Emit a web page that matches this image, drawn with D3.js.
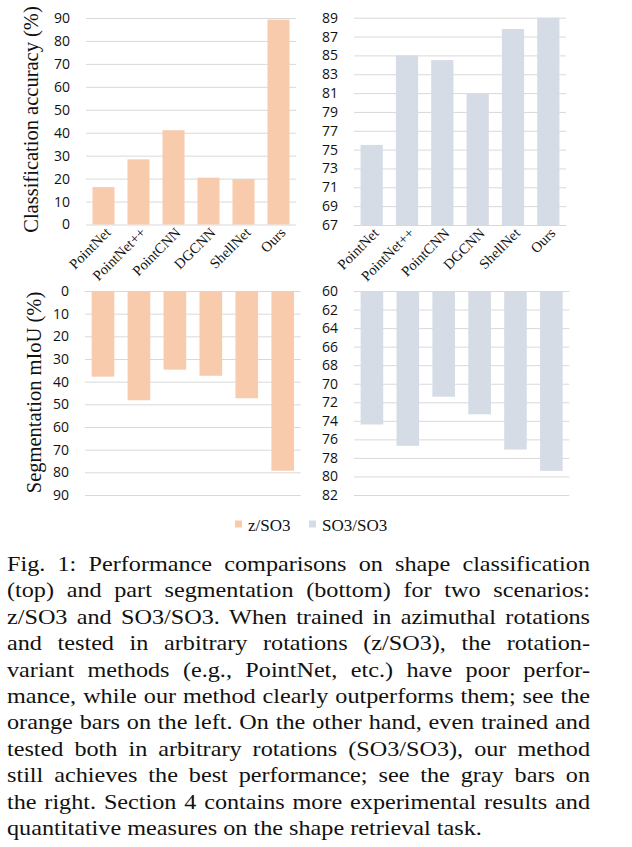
<!DOCTYPE html>
<html><head><meta charset="utf-8">
<script src="https://cdn.jsdelivr.net/npm/d3@7/dist/d3.min.js"></script>
<style>body{margin:0;background:#fff}</style>
</head><body>
<svg id="c" width="632" height="847"></svg>
<script>
const categories = ["PointNet","PointNet++","PointCNN","DGCNN","ShellNet","Ours"];
const seriesNames = ["z/SO3","SO3/SO3"];
const clsZSO3   = [16.3, 28.4, 41.1, 20.4, 19.8, 89.3];
const clsSO3SO3 = [75.5, 85.0, 84.5, 81.0, 87.8, 89.0];
const segZSO3   = [37.8, 48.2, 34.7, 37.4, 47.3, 79.3];
const segSO3SO3 = [74.4, 76.7, 71.4, 73.3, 77.1, 79.4];
const clsLeftTicks  = [0,10,20,30,40,50,60,70,80,90];
const clsRightTicks = [67,69,71,73,75,77,79,81,83,85,87,89];
const segLeftTicks  = [0,10,20,30,40,50,60,70,80,90];
const segRightTicks = [60,62,64,66,68,70,72,74,76,78,80,82];
const yTitles = ["Classification accuracy (%)","Segmentation mIoU (%)"];
const captionLines = [
 "Fig. 1: Performance comparisons on shape classification",
 "(top) and part segmentation (bottom) for two scenarios:",
 "z/SO3 and SO3/SO3. When trained in azimuthal rotations",
 "and tested in arbitrary rotations (z/SO3), the rotation-",
 "variant methods (e.g., PointNet, etc.) have poor perfor-",
 "mance, while our method clearly outperforms them; see the",
 "orange bars on the left. On the other hand, even trained and",
 "tested both in arbitrary rotations (SO3/SO3), our method",
 "still achieves the best performance; see the gray bars on",
 "the right. Section 4 contains more experimental results and",
 "quantitative measures on the shape retrieval task."
];
const colors = ["#F8CBAD","#D6DCE5"];

const svg = d3.select("#c");
svg.append("rect").attr("width",632).attr("height",847).attr("fill","#fff");
const tickFont = "'Open Sans', sans-serif";
const serif = "'Liberation Serif', 'Times New Roman', serif";

function panel(o){
  const x = d3.scaleBand().domain(categories).range([o.x0,o.x1]).paddingInner(0.37).paddingOuter(0.185);
  const y = d3.scaleLinear().domain([o.ticks[0], o.ticks[o.ticks.length-1]])
    .range(o.reversed ? [o.yTop,o.yBot] : [o.yBot,o.yTop]);
  const ax = svg.append("g").attr("transform",`translate(${o.x0},0)`)
    .call(d3.axisLeft(y).tickValues(o.ticks).tickSize(-(o.x1-o.x0)).tickPadding(16).tickFormat(d3.format("d")));
  ax.select(".domain").remove();
  ax.selectAll(".tick line").attr("stroke","#d9d9d9").attr("stroke-width",1);
  ax.selectAll(".tick text").attr("font-family",tickFont).attr("font-size",14).attr("fill","#111");
  const base = o.ticks[0];
  svg.append("g").selectAll("rect").data(o.values).join("rect")
    .attr("x",(d,i)=>x(categories[i])).attr("width",x.bandwidth())
    .attr("y",d=> o.reversed ? y(base) : y(d))
    .attr("height",d=> Math.abs(y(d)-y(base)))
    .attr("fill",o.color);
  if(o.labels){
    const bx = svg.append("g").attr("transform",`translate(0,${o.yBot})`)
      .call(d3.axisBottom(x).tickSize(0));
    bx.select(".domain").remove();
    bx.selectAll(".tick text").attr("font-family",serif).attr("font-size",14.5).attr("fill","#111")
      .attr("y",0).attr("dy",0).attr("text-anchor","end")
      .attr("transform","translate(8,9) rotate(-45)");
  }
}
panel({x0:86,x1:296,yTop:18,yBot:224.5,ticks:clsLeftTicks,values:clsZSO3,color:colors[0],labels:true});
panel({x0:354,x1:566,yTop:17.7,yBot:225,ticks:clsRightTicks,values:clsSO3SO3,color:colors[1],labels:true});
panel({x0:85,x1:300.7,yTop:291,yBot:495,ticks:segLeftTicks,values:segZSO3,color:colors[0],reversed:true});
panel({x0:354,x1:569.3,yTop:291,yBot:495,ticks:segRightTicks,values:segSO3SO3,color:colors[1],reversed:true});

// y titles
[[38,119.5],[41,392.5]].forEach((p,i)=>{
  svg.append("text").attr("transform",`translate(${p[0]},${p[1]}) rotate(-90)`)
    .attr("text-anchor","middle").attr("font-family",serif).attr("font-size",20.5).attr("fill","#111")
    .text(yTitles[i]);
});

// legend
const lg = svg.append("g");
[[235,248],[309,322]].forEach((p,i)=>{
  lg.append("rect").attr("x",p[0]).attr("y",520.5).attr("width",7).attr("height",7).attr("fill",colors[i]);
  lg.append("text").attr("x",p[1]).attr("y",531).attr("font-family",serif).attr("font-size",17).attr("fill","#111").text(seriesNames[i]);
});

// caption (justified)
const sx = 1.1, left = 7, W = 583/sx, fs = 22;
const cap = svg.append("g").attr("transform",`translate(${left},0) scale(${sx},1)`);
const meas = cap.append("text").attr("font-family",serif).attr("font-size",fs).attr("visibility","hidden");
function wlen(s){ meas.text(s); return meas.node().getComputedTextLength(); }
const spaceW = wlen("a a") - wlen("aa");
captionLines.forEach((line,li)=>{
  const words = line.split(" ");
  const ws = words.map(wlen);
  const sum = d3.sum(ws);
  const last = li === captionLines.length-1;
  const gap = last ? spaceW : (W - sum)/(words.length-1);
  let xx = 0;
  const yy = 571 + li*26.4;
  words.forEach((w,k)=>{
    cap.append("text").attr("x",xx).attr("y",yy).attr("font-family",serif).attr("font-size",fs).attr("fill","#111").text(w);
    xx += ws[k] + gap;
  });
});
meas.remove();
</script>
</body></html>
